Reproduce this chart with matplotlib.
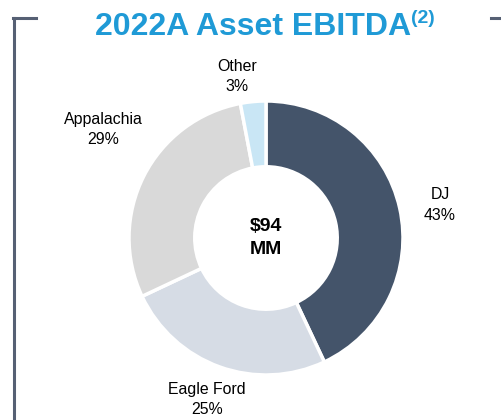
import matplotlib
matplotlib.use("Agg")
import matplotlib.pyplot as plt
from matplotlib.lines import Line2D

plt.rcParams['font.family'] = ['Liberation Sans', 'DejaVu Sans']

segments = ['DJ', 'Eagle Ford', 'Appalachia', 'Other']
shares = [43, 25, 29, 3]
colors = ['#44546a', '#d6dce5', '#d9d9d9', '#c9e6f5']
label_pos = [(1.27, 0.24), (-0.43, -1.18), (-1.19, 0.79), (-0.21, 1.18)]
total_text = '$94\nMM'

W, H = 501, 420
fig = plt.figure(figsize=(W / 100, H / 100), dpi=100)

# donut centre and radius in pixels
cx, cy, r = 266, 238, 137
ax = fig.add_axes([(cx - r) / W, (H - cy - r) / H, 2 * r / W, 2 * r / H])
ax.pie(shares, colors=colors, startangle=90, counterclock=False,
       wedgeprops=dict(width=0.48, edgecolor='white', linewidth=2.5))
ax.set_xlim(-1, 1)
ax.set_ylim(-1, 1)
ax.set_aspect('equal')
ax.axis('off')

for name, val, (x, y) in zip(segments, shares, label_pos):
    ax.text(x, y, f'{name}\n{val}%', ha='center', va='center',
            fontsize=11.4, color='#000000', linespacing=1.45)

ax.text(0, 0, total_text, ha='center', va='center',
        fontsize=14, fontweight='bold', linespacing=1.45, parse_math=False)

# title with bold superscript
title = fig.text(95 / W, 1 - 35 / H, '2022A Asset EBITDA', ha='left', va='baseline',
                 fontsize=23, fontweight='bold', color='#1f9ad6')
fig.canvas.draw()
bb = title.get_window_extent()
fig.text(bb.x1 / W, 1 - 23 / H, '(2)', ha='left', va='baseline',
         fontsize=14, fontweight='bold', color='#1f9ad6')

# frame lines
lc = '#566074'
fig.add_artist(Line2D([14 / W, 14 / W], [0, 1 - 18 / H], color=lc, lw=2.2))
fig.add_artist(Line2D([13 / W, 36 / W], [1 - 18 / H, 1 - 18 / H], color=lc, lw=2.2))
fig.add_artist(Line2D([491 / W, 1], [1 - 18 / H, 1 - 18 / H], color=lc, lw=2.2))

fig.savefig('out.png', dpi=100)
